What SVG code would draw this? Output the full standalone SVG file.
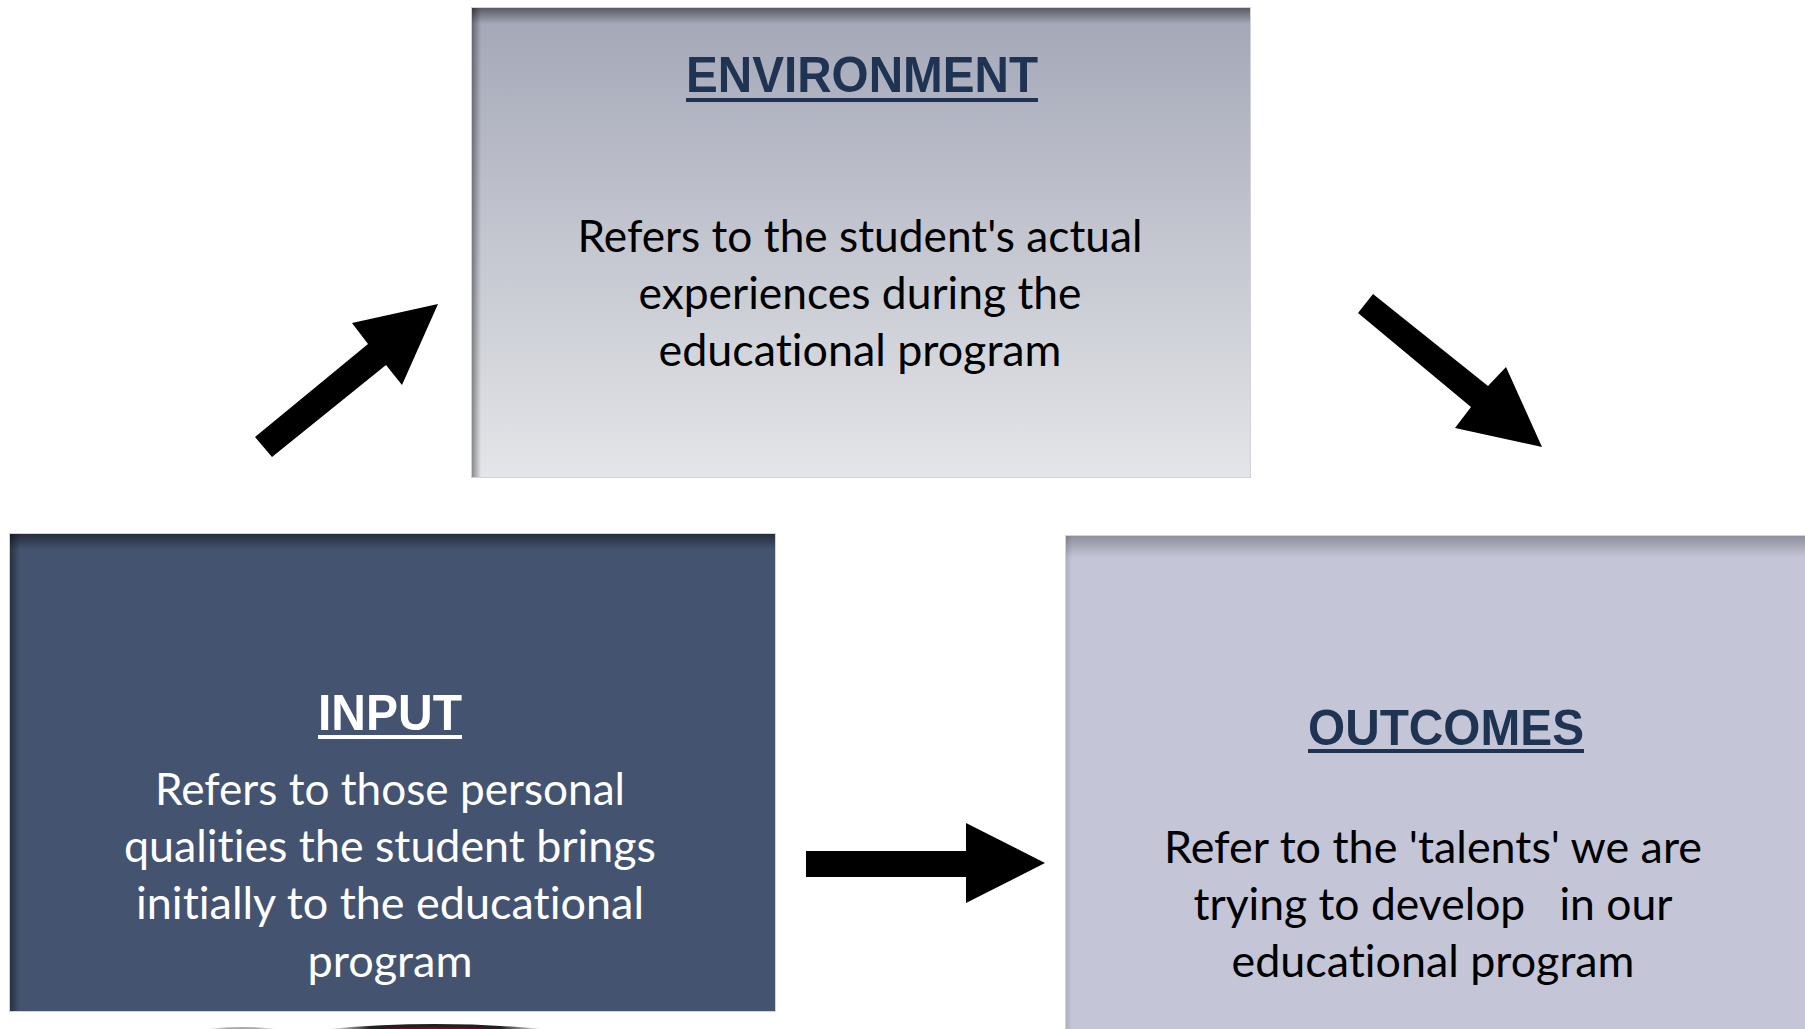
<svg xmlns="http://www.w3.org/2000/svg" width="1805" height="1029" viewBox="0 0 1805 1029">
  <defs>
    <linearGradient id="envFill" x1="0" y1="0" x2="0" y2="1">
      <stop offset="0" stop-color="#a3a6b6"/>
      <stop offset="0.5" stop-color="#c4c6d0"/>
      <stop offset="1" stop-color="#e3e5e8"/>
    </linearGradient>
    <!-- inner shadow along the top edge -->
    <linearGradient id="topShade" x1="0" y1="0" x2="0" y2="1">
      <stop offset="0" stop-color="#000" stop-opacity="0.45"/>
      <stop offset="1" stop-color="#000" stop-opacity="0"/>
    </linearGradient>
    <!-- inner shadow along the left edge -->
    <linearGradient id="leftShade" x1="0" y1="0" x2="1" y2="0">
      <stop offset="0" stop-color="#000" stop-opacity="0.4"/>
      <stop offset="1" stop-color="#000" stop-opacity="0"/>
    </linearGradient>
    <linearGradient id="rim" x1="0" y1="0" x2="1" y2="0">
      <stop offset="0" stop-color="#231f20" stop-opacity="0"/>
      <stop offset="0.2" stop-color="#231f20"/>
      <stop offset="0.8" stop-color="#231f20"/>
      <stop offset="1" stop-color="#231f20" stop-opacity="0"/>
    </linearGradient>
    <linearGradient id="greyRim" x1="0" y1="0" x2="1" y2="0">
      <stop offset="0" stop-color="#aaaaaa" stop-opacity="0"/>
      <stop offset="0.3" stop-color="#aaaaaa"/>
      <stop offset="0.7" stop-color="#aaaaaa"/>
      <stop offset="1" stop-color="#aaaaaa" stop-opacity="0"/>
    </linearGradient>
  </defs>
  <style>
    .frame { stroke: #d2d3d6; stroke-width: 1; }
    .title { font-family: "Liberation Sans", Arial, sans-serif; font-weight: bold; font-size: 50px; text-anchor: middle; }
    .body { font-family: Lato, "Open Sans", sans-serif; font-size: 45px; text-anchor: middle; font-variant-ligatures: none; }
    .dark { fill: #1f3352; }
    .light { fill: #ffffff; }
    .arrow { fill: #000000; }
  </style>

  <rect x="0" y="0" width="1805" height="1029" fill="#ffffff"/>

  <!-- Environment -->
  <g id="environment">
    <rect class="frame" x="471.5" y="7.5" width="779" height="470" fill="url(#envFill)"/>
    <rect x="472" y="8" width="778" height="16" fill="url(#topShade)"/>
    <rect x="472" y="8" width="9" height="469" fill="url(#leftShade)"/>
    <text class="title dark" x="862" y="92" textLength="352" lengthAdjust="spacingAndGlyphs">ENVIRONMENT</text>
    <rect x="686" y="98" width="352" height="4" fill="#1f3352"/>
    <text class="body" x="860" y="252" fill="#000" textLength="565" lengthAdjust="spacingAndGlyphs">Refers to the student's actual</text>
    <text class="body" x="860" y="309" fill="#000" textLength="443" lengthAdjust="spacingAndGlyphs">experiences during the</text>
    <text class="body" x="860" y="366" fill="#000" textLength="403" lengthAdjust="spacingAndGlyphs">educational program</text>
  </g>

  <!-- Input -->
  <g id="input">
    <rect class="frame" x="9.5" y="533.5" width="766" height="478" fill="#44536f"/>
    <rect x="10" y="534" width="765" height="16" fill="url(#topShade)"/>
    <rect x="10" y="534" width="10" height="477" fill="url(#leftShade)"/>
    <text class="title light" x="390" y="730" textLength="144" lengthAdjust="spacingAndGlyphs">INPUT</text>
    <rect x="318" y="735" width="144" height="4" fill="#ffffff"/>
    <text class="body light" x="390" y="805" textLength="470" lengthAdjust="spacingAndGlyphs">Refers to those personal</text>
    <text class="body light" x="390" y="862" textLength="532" lengthAdjust="spacingAndGlyphs">qualities the student brings</text>
    <text class="body light" x="390" y="919" textLength="508" lengthAdjust="spacingAndGlyphs">initially to the educational</text>
    <text class="body light" x="390" y="977" textLength="165" lengthAdjust="spacingAndGlyphs">program</text>
  </g>

  <!-- Outcomes -->
  <g id="outcomes">
    <rect class="frame" x="1065.5" y="535.5" width="740" height="500" fill="#c4c5d7"/>
    <rect x="1066" y="536" width="739" height="22" fill="url(#topShade)" opacity="0.6"/>
    <rect x="1066" y="536" width="6" height="493" fill="url(#leftShade)" opacity="0.3"/>
    <text class="title dark" x="1446" y="745" textLength="276" lengthAdjust="spacingAndGlyphs">OUTCOMES</text>
    <rect x="1308" y="749" width="276" height="4" fill="#1f3352"/>
    <text class="body" x="1433" y="863" fill="#000" textLength="538" lengthAdjust="spacingAndGlyphs">Refer to the 'talents' we are</text>
    <text class="body" x="1433" y="920" fill="#000" textLength="479" lengthAdjust="spacingAndGlyphs" xml:space="preserve">trying to develop   in our</text>
    <text class="body" x="1433" y="977" fill="#000" textLength="403" lengthAdjust="spacingAndGlyphs">educational program</text>
  </g>

  <!-- rims of shapes cut off by the bottom edge, below the input box -->
  <path d="M205,1029 Q242,1025 279,1029 Z" fill="url(#greyRim)"/>
  <path d="M328,1029 Q435,1019 543,1029 Z" fill="url(#rim)"/>
  <path d="M380,1029 Q435,1025 490,1029 Z" fill="#6a0f24"/>

  <!-- Connectors -->
  <g id="connectors">
    <polygon class="arrow" points="255,437 368,344 352,323 438,304 402,385 386,365 272,457"/>
    <polygon class="arrow" points="1373,294 1488,386 1506,367 1542,447 1455,428 1471,407 1358,313"/>
    <polygon class="arrow" points="806,851 966,851 966,823 1045,863 966,903 966,877 806,877"/>
  </g>
</svg>
